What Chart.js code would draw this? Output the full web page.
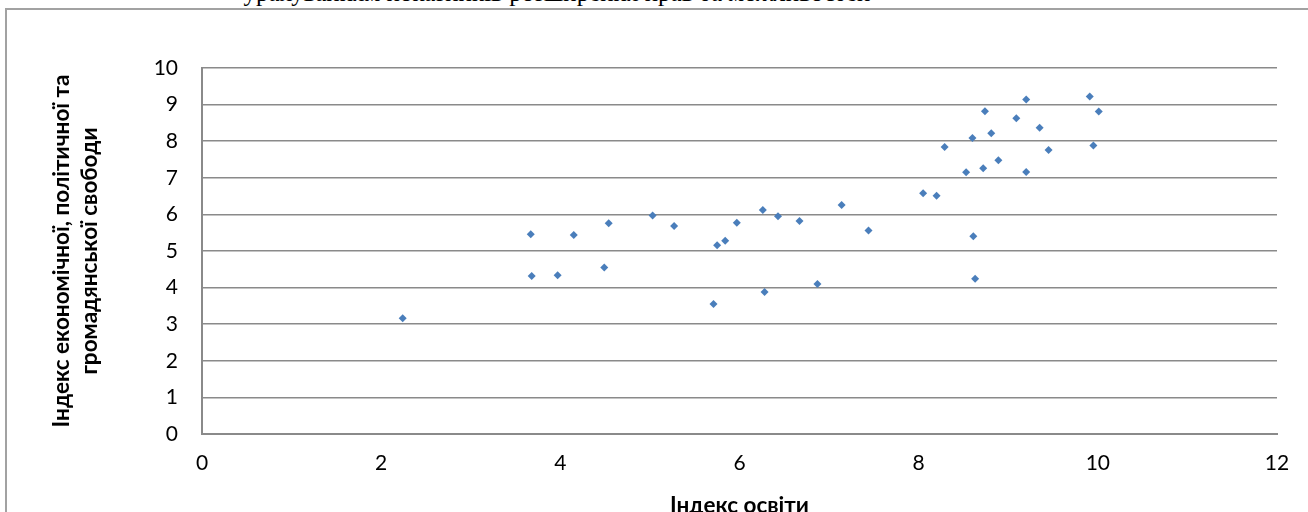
<!DOCTYPE html>
<html>
<head>
<meta charset="utf-8">
<script src="https://cdn.jsdelivr.net/npm/chart.js@4"></script>
<style>
  html, body { margin: 0; padding: 0; background: #fff; overflow: hidden; }
  #wrap { position: relative; width: 1308px; height: 530px; }
  #frame { position: absolute; left: 5px; top: 8px; width: 2000px; height: 2000px;
           border-left: 2px solid #a2a2a2; border-top: 2px solid #a2a2a2; }
  #doc-title { position: absolute; left: 0; top: -21px; width: 1114px; text-align: center;
               font-family: "Liberation Serif", serif; font-size: 25px; color: #000; white-space: nowrap; }
  canvas { position: absolute; left: 0; top: 0; }
</style>
</head>
<body>
<div id="wrap">
  <div id="frame"></div>
  <div id="doc-title">урахуванням показників розширення прав та можливостей</div>
  <canvas id="canvas-scatter" width="1308" height="530"></canvas>
</div>
<script>
// Індекс освіти (x) та індекс свободи (y)
const educationIndex = [2.24, 3.67, 3.68, 3.97, 4.15, 4.49, 4.54, 5.03, 5.27, 5.71,
    5.75, 5.84, 5.97, 6.26, 6.28, 6.43, 6.67, 6.87, 7.14, 7.44,
    8.05, 8.20, 8.29, 8.53, 8.60, 8.61, 8.63, 8.72, 8.74, 8.81,
    8.89, 9.09, 9.20, 9.20, 9.35, 9.45, 9.91, 9.95, 10.01];
const freedomIndex = [3.16, 5.46, 4.32, 4.34, 5.44, 4.55, 5.76, 5.97, 5.68, 3.55,
    5.16, 5.28, 5.77, 6.12, 3.88, 5.95, 5.82, 4.10, 6.26, 5.56,
    6.58, 6.51, 7.84, 7.15, 8.09, 5.40, 4.24, 7.26, 8.82, 8.22,
    7.48, 8.63, 9.14, 7.16, 8.37, 7.76, 9.22, 7.88, 8.81];

const xRange = [0, 12];
const xStep = 2;
const yRange = [0, 10];
const yStep = 1;

const xTitle = 'Індекс освіти';
const yTitle = ['Індекс економічної, політичної та', 'громадянської свободи'];

const points = educationIndex.map((x, i) => ({x: x, y: freedomIndex[i]}));

const canvas = document.getElementById('canvas-scatter');
var ctx = canvas.getContext('2d');
new Chart(ctx, {
    type: 'scatter',
    data: {
        datasets: [{
            label: 'Індекс',
            data: points,
            pointStyle: 'rectRot',
            radius: 4,
            hoverRadius: 4,
            borderWidth: 0,
            backgroundColor: '#4a7ebb',
            borderColor: '#4a7ebb'
        }]
    },
    options: {
        responsive: false,
        animation: false,
        layout: {
            padding: {left: 0, right: 31, top: 68, bottom: 0}
        },
        plugins: {
            legend: {display: false},
            tooltip: {enabled: false}
        },
        scales: {
            x: {
                type: 'linear',
                min: xRange[0],
                max: xRange[1],
                afterFit: function (scale) { scale.height = 96; },
                ticks: {
                    stepSize: xStep,
                    padding: 17,
                    color: '#000',
                    font: {family: 'Lato', size: 21}
                },
                grid: {display: false, drawTicks: false},
                border: {display: true, color: '#8a8a8a', width: 2},
                title: {
                    display: true,
                    text: xTitle,
                    color: '#000',
                    font: {family: 'Lato', size: 22.5, weight: 'bold', lineHeight: 1.2},
                    padding: {top: 0, bottom: 11}
                }
            },
            y: {
                type: 'linear',
                min: yRange[0],
                max: yRange[1],
                afterFit: function (scale) { scale.width = 202; },
                ticks: {
                    stepSize: yStep,
                    padding: 24,
                    color: '#000',
                    font: {family: 'Lato', size: 21}
                },
                grid: {color: '#8a8a8a', lineWidth: 1.5, drawTicks: false},
                border: {display: true, color: '#8a8a8a', width: 2},
                title: {
                    display: true,
                    text: yTitle,
                    color: '#000',
                    font: {family: 'Lato', size: 22.5, weight: 'bold', lineHeight: 1.25},
                    padding: {top: 48, bottom: 0}
                }
            }
        }
    }
});
</script>
</body>
</html>
